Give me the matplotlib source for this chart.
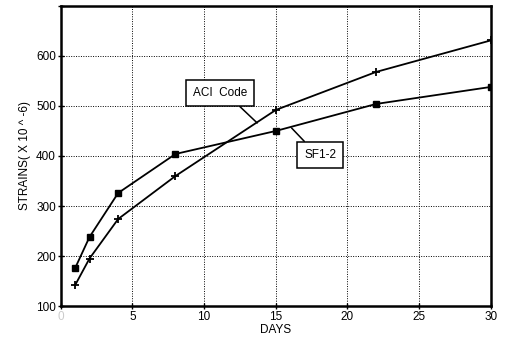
import matplotlib
matplotlib.use("Agg")
import matplotlib.pyplot as plt

plt.rcParams['font.family'] = ['Liberation Sans', 'DejaVu Sans']

days = [1, 2, 4, 8, 15, 22, 30]
sf12 = [176, 238, 326, 404, 450, 504, 538]
aci = [142, 195, 274, 360, 492, 568, 631]

xticks = [0, 5, 10, 15, 20, 25, 30]
yticks = [100, 200, 300, 400, 500, 600, 700]

fig = plt.figure(figsize=(5.07, 3.47), dpi=100)
ax = fig.add_axes([0.120, 0.118, 0.848, 0.865])

ax.plot(days, sf12, color='black', lw=1.3, marker='s', ms=5, zorder=3)
ax.plot(days, aci, color='black', lw=1.3, marker='+', ms=5.5, mew=1.3, zorder=3)

ax.set_xlim(0, 30)
ax.set_ylim(100, 700)
ax.set_xticks(xticks)
ax.set_yticks(yticks)
ax.set_xticklabels(['0', '5', '10', '15', '20', '25', '30'])
ax.set_yticklabels(['100', '200', '300', '400', '500', '600', ''])
ax.get_xticklabels()[0].set_color('#cccccc')
ax.tick_params(direction='inout', length=5, width=1, labelsize=8.5, pad=1)

ax.grid(True, color='black', ls=(0, (1, 1.5)), lw=0.7)
for s in ax.spines.values():
    s.set_linewidth(1.8)

ax.set_xlabel('DAYS', fontsize=8.5, labelpad=1)
ax.set_ylabel('STRAINS( X 10 ^ -6)', fontsize=8.5, labelpad=4)

box = dict(boxstyle='square,pad=0.6', fc='white', ec='black', lw=1.1)
ax.annotate('ACI  Code', xy=(13.7, 466), xytext=(11.1, 526), fontsize=8.5,
            ha='center', va='center', bbox=box,
            arrowprops=dict(arrowstyle='-', color='black', lw=1.1,
                            relpos=(0.72, 0), shrinkA=0, shrinkB=0))
ax.annotate('SF1-2', xy=(16.1, 456), xytext=(18.1, 402), fontsize=8.5,
            ha='center', va='center', bbox=box,
            arrowprops=dict(arrowstyle='-', color='black', lw=1.1,
                            relpos=(0.23, 1), shrinkA=0, shrinkB=0))

fig.savefig('out.png', dpi=100)
